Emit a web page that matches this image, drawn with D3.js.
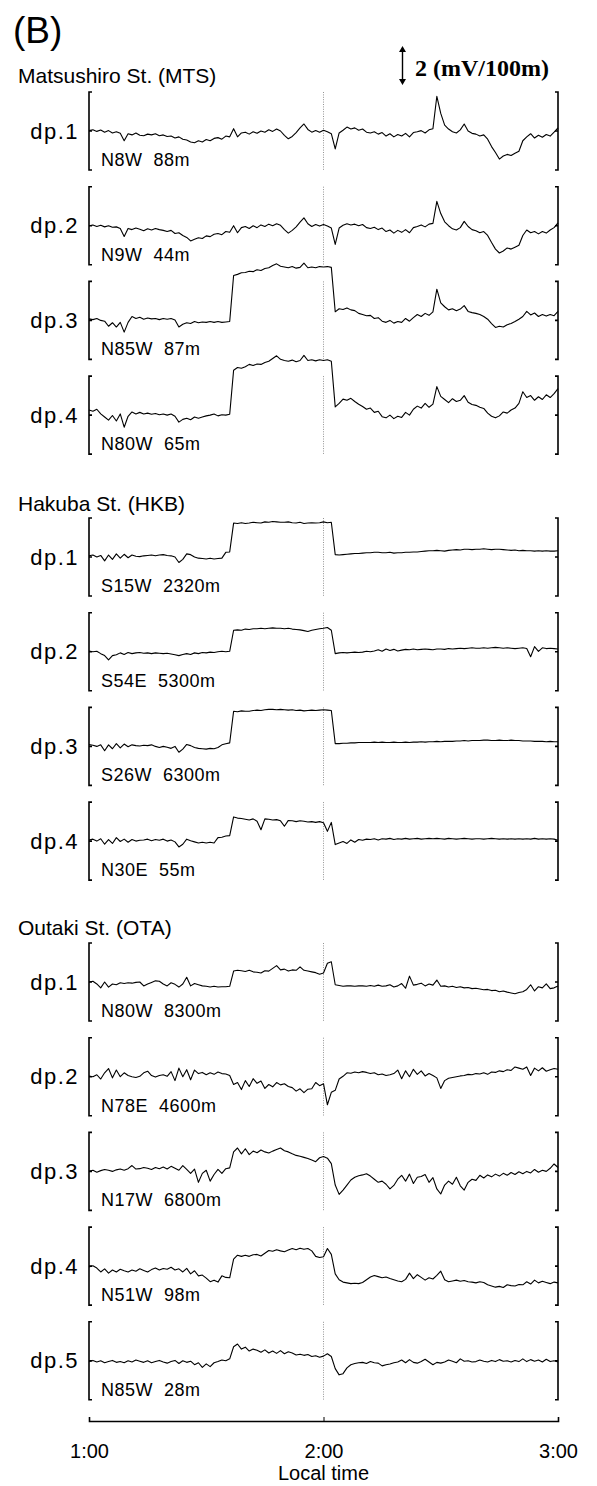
<!DOCTYPE html>
<html><head><meta charset="utf-8">
<script src="https://cdn.jsdelivr.net/npm/d3@7"></script>
<style>body{margin:0;background:#fff}svg{display:block}</style>
</head><body><svg id="c" width="597" height="1486"></svg>
<script>
// ---- data (values in mV/100m, one sample per minute from 1:00 to 3:00) ----
const timeTicks = ["1:00", "2:00", "3:00"];
const tickMinutes = [0, 60, 120];
const stations = ["Matsushiro St. (MTS)", "Hakuba St. (HKB)", "Outaki St. (OTA)"];
const mtsDipoles = ["N8W  88m", "N9W  44m", "N85W  87m", "N80W  65m"];
const hkbDipoles = ["S15W  2320m", "S54E  5300m", "S26W  6300m", "N30E  55m"];
const otaDipoles = ["N80W  8300m", "N78E  4600m", "N17W  6800m", "N51W  98m", "N85W  28m"];

const mts1 = [0.02,0.06,-0.02,0.05,-0.06,0.02,-0.1,-0.04,-0.12,-0.5,
-0.14,-0.2,-0.1,-0.22,-0.24,-0.16,-0.2,-0.14,-0.24,-0.2,
-0.28,-0.26,-0.36,-0.3,-0.42,-0.46,-0.56,-0.6,-0.5,-0.56,
-0.44,-0.5,-0.38,-0.34,-0.42,-0.26,-0.3,0.12,-0.3,-0.1,
-0.06,-0.16,-0.04,-0.12,0.0,-0.06,0.06,-0.02,0.1,0.0,
-0.22,-0.4,-0.28,-0.08,0.16,0.36,0.08,-0.06,0.02,-0.06,
0.04,-0.04,-0.14,-0.92,-0.1,0.04,0.2,0.1,0.16,0.04,
0.1,-0.06,-0.1,-0.04,-0.16,-0.08,-0.26,-0.14,-0.3,-0.18,
-0.26,-0.12,-0.3,-0.08,-0.04,0.02,-0.1,0.06,0.12,1.78,
0.9,0.3,0.1,-0.04,-0.1,0.06,0.36,0.0,-0.12,-0.16,
-0.26,-0.2,-0.42,-0.8,-1.1,-1.44,-1.28,-1.2,-1.26,-1.14,
-1.04,-0.5,-0.3,-0.14,-0.36,-0.22,-0.32,-0.18,-0.26,-0.06,0.16];
const mts2 = [0.0,0.04,-0.04,0.02,-0.06,0.0,-0.08,-0.06,-0.14,-0.55,
-0.14,-0.2,-0.12,-0.18,-0.26,-0.16,-0.22,-0.14,-0.2,-0.24,
-0.3,-0.24,-0.4,-0.36,-0.5,-0.6,-0.78,-0.7,-0.62,-0.66,
-0.52,-0.56,-0.44,-0.4,-0.46,-0.3,-0.34,0.0,-0.36,-0.1,
-0.04,-0.14,0.0,-0.1,0.04,-0.04,0.08,0.0,0.1,0.02,
-0.2,-0.38,-0.24,-0.06,0.18,0.4,0.1,-0.04,0.06,-0.02,
0.06,-0.02,-0.12,-0.96,-0.12,0.02,0.1,0.04,0.08,0.0,
0.06,-0.1,-0.14,-0.08,-0.2,-0.12,-0.3,-0.22,-0.38,-0.24,
-0.34,-0.2,-0.36,-0.1,-0.04,0.04,-0.06,0.08,0.12,1.25,
0.62,0.2,0.0,-0.16,-0.22,-0.1,0.22,-0.04,-0.2,-0.26,
-0.36,-0.3,-0.5,-0.86,-1.2,-1.4,-1.3,-1.14,-1.2,-1.1,
-1.0,-0.5,-0.22,-0.36,-0.3,-0.42,-0.3,-0.38,-0.22,-0.1,0.14];
const mts3 = [0.08,0.04,0.1,0.0,-0.04,-0.3,-0.12,-0.34,-0.1,-0.6,
-0.1,0.2,0.1,0.16,0.06,0.12,0.08,0.1,0.04,0.1,
0.06,0.1,0.02,-0.34,-0.2,-0.12,-0.16,-0.06,-0.12,-0.08,
-0.1,-0.06,-0.1,-0.06,-0.1,-0.08,-0.06,2.3,2.36,2.44,
2.46,2.52,2.5,2.6,2.56,2.66,2.7,2.82,2.9,2.78,
2.74,2.7,2.76,2.68,2.72,2.94,2.7,2.74,2.7,2.76,
2.74,2.76,2.72,0.44,0.6,0.56,0.64,0.54,0.5,0.36,
0.3,0.24,0.26,0.1,0.14,-0.04,-0.1,0.0,-0.14,-0.06,
-0.1,0.1,-0.04,0.14,0.3,0.2,0.36,0.26,0.44,1.6,
0.9,0.7,0.54,0.6,0.5,0.58,0.76,0.46,0.4,0.36,
0.3,0.2,0.06,-0.16,-0.36,-0.3,-0.34,-0.22,-0.16,-0.06,
0.06,0.2,0.46,0.28,0.38,0.2,0.3,0.22,0.3,0.24,0.46];
const mts4 = [0.26,0.2,0.3,0.06,-0.1,-0.26,-0.02,-0.3,0.06,-0.62,
-0.06,0.16,0.06,0.14,0.06,0.1,0.04,0.08,0.02,0.06,
0.0,0.06,-0.06,-0.36,-0.22,-0.16,-0.24,-0.1,-0.16,-0.1,
-0.04,0.0,0.06,-0.04,0.02,0.0,0.04,2.3,2.44,2.4,
2.48,2.6,2.54,2.62,2.6,2.7,2.76,2.9,3.04,2.86,
2.8,2.76,2.82,2.74,2.8,3.06,2.8,2.84,2.78,2.84,
2.8,2.84,2.76,0.42,0.6,0.82,0.76,0.86,0.7,0.56,
0.44,0.3,0.36,0.14,0.2,-0.08,-0.14,0.0,-0.18,-0.06,
-0.12,0.14,0.0,0.3,0.46,0.36,0.6,0.4,0.56,1.46,
0.96,0.8,0.64,0.84,0.7,0.76,1.0,0.66,0.54,0.5,
0.4,0.34,0.1,-0.06,-0.14,-0.04,0.16,0.1,0.26,0.36,
0.6,1.2,0.9,1.0,0.76,0.94,0.8,1.04,0.9,1.1,1.36];

const hkb1 = [0.06,0.1,0.0,0.08,-0.2,0.1,-0.12,0.16,-0.06,0.14,
-0.04,0.1,0.04,0.02,0.06,0.08,0.1,0.06,0.1,0.12,
0.08,0.06,0.0,-0.28,-0.12,0.16,0.12,0.0,-0.06,-0.08,
-0.1,-0.06,-0.1,-0.08,-0.06,0.24,0.26,1.74,1.72,1.76,
1.72,1.74,1.78,1.76,1.74,1.8,1.78,1.82,1.8,1.78,
1.78,1.8,1.76,1.74,1.78,1.72,1.74,1.76,1.74,1.76,
1.8,1.76,1.78,0.12,0.1,0.12,0.14,0.16,0.18,0.18,
0.2,0.22,0.22,0.24,0.24,0.22,0.22,0.24,0.2,0.22,
0.22,0.24,0.24,0.26,0.26,0.28,0.3,0.32,0.32,0.34,
0.32,0.3,0.34,0.36,0.38,0.36,0.4,0.4,0.38,0.4,
0.4,0.42,0.4,0.38,0.4,0.4,0.38,0.36,0.34,0.36,
0.32,0.34,0.32,0.32,0.3,0.32,0.3,0.32,0.3,0.3,0.32];
const hkb2 = [0.04,0.0,0.02,-0.1,-0.2,-0.42,-0.2,-0.16,-0.06,-0.14,
-0.04,-0.1,-0.06,-0.04,-0.08,-0.06,-0.1,-0.06,-0.08,-0.1,
-0.08,-0.12,-0.16,-0.2,-0.14,-0.1,-0.14,-0.06,-0.1,-0.04,
-0.06,-0.02,-0.04,0.0,0.02,0.0,0.02,1.1,1.12,1.1,
1.16,1.14,1.18,1.18,1.2,1.18,1.2,1.22,1.2,1.2,
1.18,1.2,1.16,1.14,1.12,1.08,1.04,1.1,1.14,1.18,
1.2,1.24,1.1,-0.1,-0.06,-0.04,-0.06,-0.04,-0.02,-0.04,
-0.02,0.02,0.0,0.04,0.1,0.02,0.14,0.06,0.12,0.04,
0.08,0.12,0.1,0.14,0.1,0.12,0.14,0.12,0.1,0.14,
0.14,0.12,0.16,0.14,0.16,0.18,0.16,0.18,0.2,0.18,
0.18,0.2,0.18,0.2,0.22,0.2,0.18,0.2,0.18,0.16,
0.18,0.2,0.16,-0.26,0.26,0.02,0.2,0.16,0.18,0.16,0.14];
const hkb3 = [0.1,0.06,0.0,0.08,-0.22,0.08,-0.12,0.14,-0.08,0.12,
-0.02,0.08,0.04,0.02,0.06,0.04,0.08,0.0,-0.06,0.0,
-0.04,-0.1,0.0,-0.3,-0.14,0.1,0.04,-0.06,-0.1,-0.12,
-0.14,-0.1,-0.12,-0.06,0.08,0.14,0.18,1.8,1.78,1.82,
1.8,1.8,1.84,1.86,1.84,1.88,1.9,1.9,1.88,1.9,
1.88,1.86,1.88,1.84,1.86,1.82,1.84,1.86,1.84,1.86,
1.88,1.86,1.84,0.14,0.14,0.16,0.16,0.18,0.18,0.2,
0.2,0.2,0.2,0.22,0.2,0.22,0.2,0.2,0.22,0.2,
0.2,0.22,0.2,0.22,0.22,0.24,0.22,0.24,0.24,0.26,
0.24,0.26,0.26,0.26,0.28,0.28,0.3,0.28,0.3,0.3,
0.3,0.32,0.32,0.3,0.3,0.32,0.3,0.3,0.32,0.3,
0.3,0.28,0.28,0.28,0.26,0.26,0.26,0.24,0.26,0.24,0.24];
const hkb4 = [0.06,0.1,0.0,0.12,-0.16,0.08,-0.12,0.18,-0.02,0.1,
-0.06,0.08,0.0,0.04,0.06,0.1,0.02,0.08,0.04,0.1,
0.0,0.06,-0.04,-0.3,-0.16,0.1,0.02,-0.04,-0.1,-0.06,
-0.1,-0.06,-0.1,0.18,0.2,0.26,0.28,1.24,1.18,1.16,
1.12,1.08,1.14,1.02,0.58,1.14,1.12,1.08,1.1,1.04,
0.76,1.06,1.04,1.0,1.04,1.02,0.98,1.0,0.96,1.0,
0.94,0.5,0.96,-0.18,-0.1,-0.02,-0.12,0.06,-0.06,0.08,
0.04,0.1,0.08,0.12,0.06,0.12,0.1,0.14,0.08,0.12,
0.1,0.14,0.1,0.12,0.14,0.1,0.12,0.14,0.12,0.14,
0.12,0.1,0.14,0.12,0.1,0.12,0.14,0.12,0.1,0.12,
0.12,0.1,0.12,0.14,0.12,0.1,0.12,0.1,0.12,0.1,
0.12,0.1,0.12,0.1,0.14,0.1,0.12,0.1,0.12,0.1,0.04];

const ota1 = [0.0,0.04,-0.1,-0.3,0.0,-0.26,-0.1,-0.14,-0.04,-0.08,
-0.04,-0.06,-0.02,0.0,-0.2,-0.1,-0.02,0.06,0.04,-0.1,
-0.2,-0.04,-0.12,-0.26,-0.1,0.24,-0.2,-0.08,-0.14,-0.2,
-0.22,-0.26,-0.22,-0.26,-0.24,-0.24,-0.22,0.56,0.6,0.58,
0.54,0.6,0.52,0.5,0.46,0.58,0.56,0.7,0.84,0.62,
0.66,0.56,0.62,0.6,0.78,0.6,0.56,0.52,0.48,0.4,
0.46,0.96,1.04,-0.14,-0.18,-0.22,-0.2,-0.2,-0.22,-0.2,
-0.2,-0.22,-0.18,-0.22,-0.16,-0.22,-0.2,-0.14,-0.26,-0.2,
-0.08,-0.32,0.3,-0.16,-0.12,-0.06,-0.2,-0.1,-0.16,0.1,
-0.22,-0.2,-0.26,-0.22,-0.28,-0.24,-0.3,-0.28,-0.34,-0.32,
-0.36,-0.4,-0.38,-0.44,-0.42,-0.5,-0.46,-0.52,-0.56,-0.6,
-0.54,-0.5,-0.38,-0.14,-0.46,-0.24,-0.3,-0.1,-0.34,-0.3,-0.2];
const ota2 = [0.04,0.0,0.1,-0.12,0.2,0.42,-0.06,0.34,0.0,0.2,
0.06,0.0,-0.04,0.02,0.2,0.28,0.06,-0.02,0.06,0.1,
0.02,0.26,-0.2,0.44,0.0,0.36,-0.16,0.34,0.16,0.22,
0.1,0.2,0.12,0.24,0.16,0.14,0.06,-0.4,-0.3,-0.66,
-0.2,-0.5,-0.1,-0.34,-0.22,-0.6,-0.4,-0.52,-0.3,-0.42,
-0.36,-0.5,-0.56,-0.74,-0.62,-0.82,-0.64,-0.62,-0.3,-0.46,
-0.36,-1.44,-0.8,-0.7,-0.12,0.02,0.2,0.18,0.24,0.2,
0.26,0.22,0.16,0.2,0.1,0.14,0.06,0.1,0.16,0.34,
-0.1,0.3,0.0,0.38,0.12,0.3,0.04,0.16,0.06,-0.06,
-0.6,-0.2,-0.08,-0.04,0.0,0.04,0.06,0.12,0.1,0.16,
0.14,0.2,0.12,0.24,0.22,0.3,0.26,0.36,0.32,0.5,
0.44,0.38,0.5,0.06,0.44,0.3,0.46,0.28,0.36,0.42,0.38];
const ota3 = [0.0,0.06,-0.04,0.04,0.1,0.06,0.0,0.08,0.12,0.06,
0.14,0.3,0.12,0.14,0.2,0.16,0.1,0.2,0.14,0.22,
0.12,0.26,0.16,0.06,0.3,0.1,-0.1,0.12,-0.56,-0.1,
0.06,-0.5,-0.16,0.1,-0.1,0.14,0.18,1.0,1.2,0.9,
1.16,0.86,1.04,0.96,1.1,1.0,0.94,1.04,1.12,1.2,
1.06,1.0,0.9,0.82,0.78,0.72,0.66,0.58,0.5,0.7,
0.76,0.68,0.4,-0.7,-1.18,-0.96,-0.7,-0.44,-0.3,-0.22,
-0.18,-0.12,-0.24,-0.4,-0.56,-0.5,-0.66,-0.9,-0.72,-0.4,
-0.2,-0.5,-0.14,-0.62,-0.3,-0.26,-0.16,-0.56,-0.32,-0.9,
-1.16,-0.7,-0.5,-0.66,-0.3,-0.74,-0.96,-0.56,-0.4,-0.46,
-0.2,-0.34,-0.18,-0.28,-0.14,-0.24,-0.1,-0.2,-0.06,-0.16,
-0.02,-0.12,0.0,-0.08,0.1,-0.04,0.06,0.0,0.16,0.38,0.2];
const ota4 = [-0.05,0.02,-0.1,-0.3,-0.14,-0.36,-0.2,-0.3,-0.16,-0.24,
-0.3,-0.2,-0.26,-0.14,-0.22,-0.3,-0.18,-0.1,-0.2,-0.12,
-0.16,-0.06,-0.2,-0.14,-0.3,-0.12,-0.4,-0.24,-0.5,-0.46,
-0.62,-0.8,-0.72,-0.82,-0.5,-0.58,-0.6,0.36,0.56,0.5,
0.56,0.5,0.58,0.6,0.52,0.66,0.8,0.76,0.84,0.78,
0.74,0.82,0.9,0.84,0.92,0.86,0.9,0.78,0.5,0.44,
0.48,0.9,0.6,-0.4,-0.7,-0.82,-0.86,-0.9,-0.88,-0.9,
-0.84,-0.7,-0.56,-0.48,-0.54,-0.6,-0.56,-0.64,-0.7,-0.76,
-0.8,-0.68,-0.36,-0.64,-0.44,-0.58,-0.72,-0.6,-0.66,-0.48,
-0.26,-0.7,-0.8,-0.76,-0.72,-0.78,-0.74,-0.8,-0.82,-0.86,
-0.8,-0.84,-0.96,-1.02,-1.08,-1.04,-1.1,-0.96,-1.0,-1.02,
-0.94,-0.96,-0.8,-0.92,-0.72,-0.86,-0.78,-0.84,-0.9,-0.82,-0.86];
const ota5 = [-0.05,0.02,-0.06,0.0,-0.1,-0.04,0.02,-0.08,-0.04,-0.1,
0.0,-0.06,0.04,-0.02,-0.08,0.0,-0.1,-0.04,0.02,-0.06,
-0.12,-0.04,0.02,-0.14,0.0,-0.08,-0.02,-0.2,-0.1,-0.34,
-0.16,-0.3,-0.1,-0.04,0.04,0.0,0.1,0.72,0.86,0.6,
0.7,0.5,0.6,0.54,0.44,0.56,0.4,0.5,0.38,0.52,
0.36,0.46,0.4,0.3,0.34,0.28,0.32,0.22,0.26,0.18,
0.24,0.36,0.22,-0.4,-0.72,-0.66,-0.36,-0.2,-0.14,-0.1,
-0.08,-0.14,-0.04,-0.1,-0.12,-0.26,-0.2,-0.16,-0.1,-0.06,
0.04,-0.1,0.06,-0.08,-0.12,-0.04,0.08,-0.06,-0.2,-0.08,
-0.12,-0.06,0.04,-0.02,-0.1,0.1,-0.02,0.0,-0.06,-0.04,
0.04,-0.02,-0.06,0.02,-0.04,0.06,-0.02,0.0,-0.06,0.02,
-0.04,0.1,-0.04,0.06,-0.02,0.04,-0.06,0.08,-0.04,0.0,-0.06];

const scaleBarValue = 2;
const scaleBarLabel = "2 (mV/100m)";

// ---- layout ----
const svg = d3.select("#c");
const SANS = "'Liberation Sans', Arial, Helvetica, sans-serif";
const x = d3.scaleLinear().domain([0, 120]).range([89, 558]);
const PH = 78, STEP = 94.7;
const blocks = [
  {name: stations[0], top: 92, titleY: 83, dips: mtsDipoles, series: [mts1, mts2, mts3, mts4]},
  {name: stations[1], top: 518, titleY: 511, dips: hkbDipoles, series: [hkb1, hkb2, hkb3, hkb4]},
  {name: stations[2], top: 943, titleY: 935, dips: otaDipoles, series: [ota1, ota2, ota3, ota4, ota5]}
];

svg.append("text").attr("x", 13).attr("y", 43).attr("font-family", SANS)
  .attr("font-size", 37).text("(B)");

let firstY = null;
blocks.forEach(b => {
  svg.append("text").attr("x", 18).attr("y", b.titleY).attr("font-family", SANS)
    .attr("font-size", 21).text(b.name);
  b.series.forEach((vals, i) => {
    const top = b.top + i * STEP;
    const y = d3.scaleLinear().domain([-2, 2]).range([top + PH, top]);
    if (!firstY) firstY = y;
    const g = svg.append("g");
    const x0 = x(0), x1 = x(120);
    g.append("path").attr("fill", "none").attr("stroke", "#000").attr("stroke-width", 1.6)
      .attr("d", `M${x0 + 3},${top}H${x0}V${top + PH}H${x0 + 3}M${x0},${y(0)}h3`);
    g.append("path").attr("fill", "none").attr("stroke", "#000").attr("stroke-width", 1.6)
      .attr("d", `M${x1 - 3},${top}H${x1}V${top + PH}H${x1 - 3}M${x1},${y(0)}h-3`);
    g.append("line").attr("x1", x(60)).attr("x2", x(60)).attr("y1", top).attr("y2", top + PH)
      .attr("stroke", "#888").attr("stroke-width", 0.9).attr("stroke-dasharray", "1,1.4");
    g.append("path").datum(vals).attr("fill", "none").attr("stroke", "#000")
      .attr("stroke-width", 1.1).attr("stroke-linejoin", "round")
      .attr("d", d3.line().x((d, j) => x(j)).y(d => y(d)));
    g.append("text").attr("x", 79).attr("y", y(0) + 7.5).attr("text-anchor", "end")
      .attr("font-family", SANS).attr("font-size", 22).attr("letter-spacing", 1.5)
      .text("dp." + (i + 1));
    g.append("text").attr("x", 101).attr("y", top + 74).attr("font-family", SANS)
      .attr("font-size", 18).attr("letter-spacing", 0.5).style("white-space", "pre")
      .text(b.dips[i]);
  });
});

// scale bar
const barLen = firstY(0) - firstY(scaleBarValue);
const bx = 402.5, by0 = 46, by1 = by0 + barLen;
svg.append("line").attr("x1", bx).attr("x2", bx).attr("y1", by0 + 3).attr("y2", by1 - 3)
  .attr("stroke", "#000").attr("stroke-width", 1.4);
svg.append("path").attr("d", `M${bx},${by0}l-3.5,6h7z M${bx},${by1}l-3.5,-6h7z`).attr("fill", "#000");
svg.append("text").attr("x", 415).attr("y", 76)
  .attr("font-family", "'Liberation Serif', 'Times New Roman', serif")
  .attr("font-weight", "bold").attr("font-size", 24).text(scaleBarLabel);

// time axis
const axisY = 1421;
const axis = d3.axisBottom(x).tickValues(tickMinutes)
  .tickFormat((d, i) => timeTicks[i]).tickSizeInner(-4).tickSizeOuter(-4).tickPadding(23);
const ag = svg.append("g").attr("transform", `translate(0,${axisY})`).call(axis);
ag.select(".domain").attr("stroke-width", 1.6);
ag.selectAll("text").attr("font-family", SANS).attr("font-size", 20).attr("fill", "#000");
svg.append("text").attr("x", x(60)).attr("y", 1480).attr("text-anchor", "middle")
  .attr("font-family", SANS).attr("font-size", 20).text("Local time");
</script>
</body></html>
